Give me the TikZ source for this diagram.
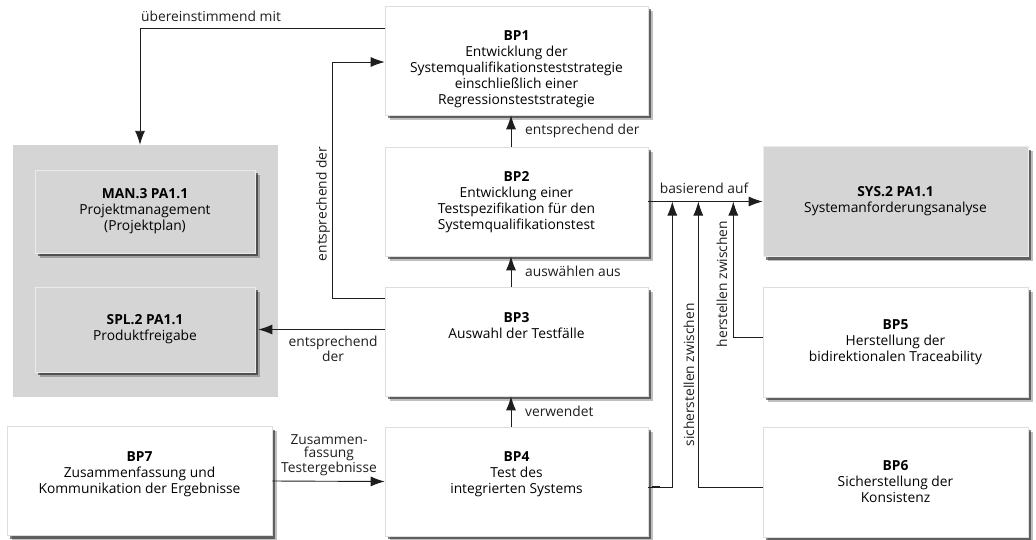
\documentclass[tikz,border=0pt]{standalone}
\usepackage{fontspec}
\setmainfont{Open Sans}
\usetikzlibrary{arrows.meta,shadows,calc}

\definecolor{boxgrey}{HTML}{D5D5D5}
\definecolor{edgegrey}{HTML}{DEDEDE}
\definecolor{linegrey}{HTML}{1E1E1E}

% box text anchored near the top edge: bold title, then the description
\newcommand\topblock[3][263pt]{%
  \parbox[c][109pt][t]{#1}{\centering\vspace*{25pt}\textbf{#2}\\#3}}

\tikzset{
  softshadow/.style={
    drop shadow={shadow xshift=4.5pt,shadow yshift=-4.5pt,opacity=0.25,fill=black},
    drop shadow={shadow xshift=3pt,shadow yshift=-3pt,opacity=0.5,fill=black}},
  boxfont/.style={font=\fontsize{13.8}{16}\selectfont},
  wbox/.style={boxfont,draw=edgegrey,fill=white,line width=0.6pt,inner sep=0pt,softshadow},
  rbox/.style={boxfont,draw=edgegrey,fill=white,line width=0.6pt,inner sep=0pt,softshadow,
    align=center,minimum width=265pt,minimum height=110pt},
  gbox/.style={boxfont,draw=black!8,fill=boxgrey,line width=0.6pt,inner sep=0pt,softshadow,
    align=center,minimum width=220pt,minimum height=83pt},
  group/.style={fill=boxgrey,inner sep=0pt,minimum width=265pt,minimum height=252pt},
  arr/.style={draw=linegrey,line width=0.9pt,-{Latex[length=14pt,width=10pt]}},
  lbl/.style={font=\fontsize{13.8}{13.5}\selectfont,align=center,inner sep=0pt,text=linegrey},
}

\begin{document}
\begin{tikzpicture}[x=1pt,y=-1pt]
\useasboundingbox (0,0) rectangle (1036,539);

% grey area holding the two management boxes
\node[group] (grp) at (145.5,271) {};
\node[gbox] (man3) at (145,211.5) {\textbf{MAN.3 PA1.1}\\Projektmanagement\\(Projektplan)};
\node[gbox,minimum height=85pt] (spl2) at (145,329.5) {\textbf{SPL.2 PA1.1}\\Produktfreigabe};

% central column of base practices
\node[wbox] (bp1) at (516.5,60.5) {\topblock{BP1}{Entwicklung der\\Systemqualifikationsteststrategie\\einschließlich einer\\Regressionsteststrategie}};
\node[wbox] (bp2) at (516.5,201.5) {\topblock{BP2}{Entwicklung einer\\Testspezifikation für den\\Systemqualifikationstest}};
\node[wbox] (bp3) at (516.5,341.5) {\topblock{BP3}{Auswahl der Testfälle}};
\node[wbox] (bp4) at (516.5,481.5) {\topblock{BP4}{Test des\\integrierten Systems}};
\node[wbox] (bp7) at (139.5,481) {\topblock[265pt]{BP7}{Zusammenfassung und\\Kommunikation der Ergebnisse}};

% right column
\node[rbox,fill=boxgrey,draw=black!8] (sys2) at (895.5,201.5) {\textbf{SYS.2 PA1.1}\\Systemanforderungsanalyse};
\node[rbox] (bp5) at (895.5,342) {\textbf{BP5}\\Herstellung der\\bidirektionalen Traceability};
\node[rbox] (bp6) at (895.5,482) {\textbf{BP6}\\Sicherstellung der\\Konsistenz};

% connectors
\draw[arr] ([yshift=32.5pt]bp1.west) -| ([xshift=-5.5pt]grp.north);
\draw[arr] ([xshift=-5.5pt]bp2.north) -- ([xshift=-5.5pt]bp1.south);
\draw[arr] ([yshift=43.5pt]bp3.west) -- ++(-52,0) |- ([yshift=-1.5pt]bp1.west);
\draw[arr] ([xshift=-5.5pt]bp3.north) -- ([xshift=-5.5pt]bp2.south);
\draw[arr] (bp3.west |- spl2.east) -- ([xshift=3pt]spl2.east);
\draw[arr] ([xshift=-5.5pt]bp4.north) -- ([xshift=-5.5pt]bp3.south);
\draw[arr] (bp7.east) -- (bp4.west);
\draw[arr] (bp2.east) -- (sys2.west);
\draw[arr] ([yshift=-5.5pt]bp4.east) -| ([xshift=24pt]bp2.east);
\draw[line width=2.4pt,draw=linegrey] ([xshift=4pt,yshift=-5.5pt]bp4.east) -- ++(8,0);
\draw[arr] ([yshift=-5pt]bp6.west) -| ([xshift=50pt]bp2.east);
\draw[arr] ([yshift=5pt]bp5.west) -| ([xshift=85pt]bp2.east);

% connector labels
\node[lbl] (l1) at (211,16) {übereinstimmend mit};
\node[lbl,anchor=west] (l2) at (525,131) {entsprechend der};
\node[lbl,rotate=90] (l3) at (323,204) {entsprechend der};
\node[lbl,anchor=west] (l4) at (525,271) {auswählen aus};
\node[lbl] (l5) at (333,349) {entsprechend\\der};
\node[lbl,anchor=west] (l6) at (525,411) {verwendet};
\node[lbl] (l7) at (329,455) {Zusammen-\\fassung\\Testergebnisse};
\node[lbl] (l8) at (704,188) {basierend auf};
\node[lbl,rotate=90] (l9) at (689,375) {sicherstellen zwischen};
\node[lbl,rotate=90] (l10) at (722,284) {herstellen zwischen};
\end{tikzpicture}
\end{document}
